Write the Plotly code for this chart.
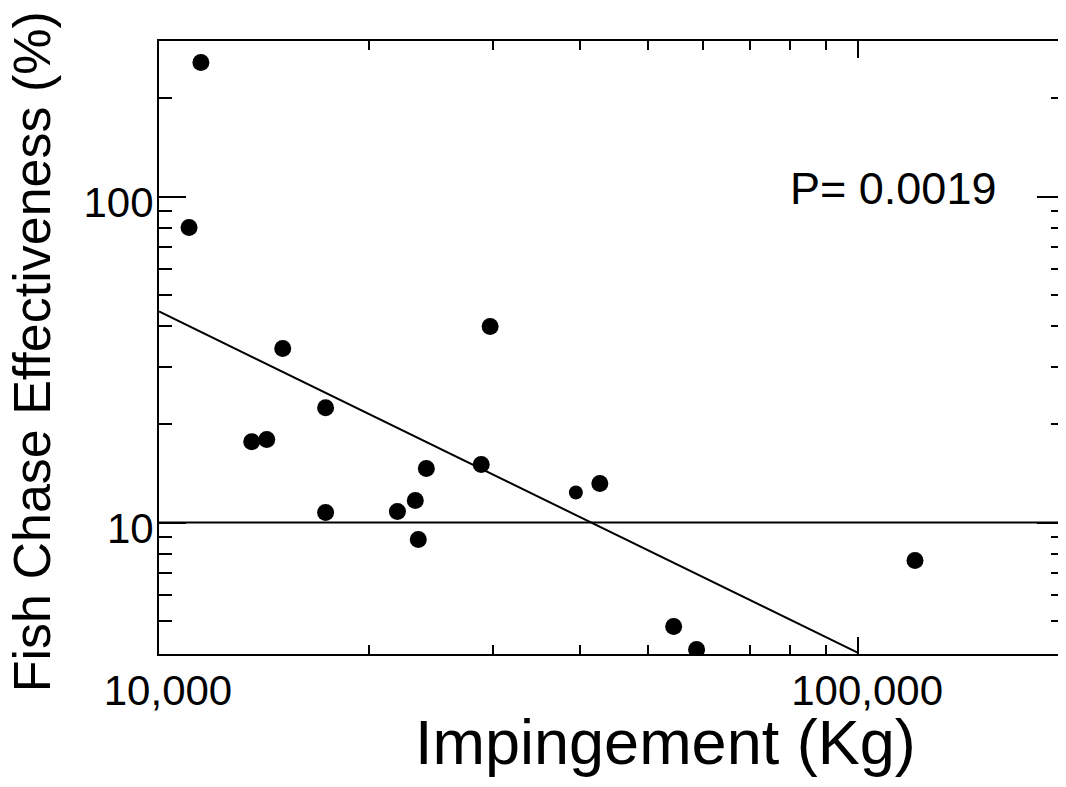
import math
import plotly.graph_objects as go

# ---- data ----
impingement_kg = [11480, 11040, 15030, 17310, 13570, 14260, 17310, 21930, 23260,
                  23490, 24120, 28900, 29760, 39470, 42710, 54470, 58740, 120600]
effectiveness_pct = [257.8, 80.3, 34.2, 22.5, 17.7, 17.97, 10.73, 10.81, 11.68,
                     8.87, 14.64, 15.07, 39.9, 12.36, 13.17, 4.80, 4.08, 7.65]

fit_x = [10000, 100000]
fit_y = [44.4, 3.98]

reference_level = 10
p_text = "P= 0.0019"

x_major_vals = [10000, 100000]
x_major_text = ["10,000", "100,000"]
x_minor_vals = [20000, 30000, 40000, 50000, 60000, 70000, 80000, 90000]
y_major_vals = [10, 100]
y_major_text = ["10", "100"]
y_minor_vals = [5, 6, 7, 8, 9, 20, 30, 40, 50, 60, 70, 80, 90, 200]

x_range = [10000, 197000]
y_range = [3.95, 300]

# ---- style ----
FONT = "Arial, Liberation Sans, Helvetica, sans-serif"
marker_sizes = [17] * len(impingement_kg)
marker_sizes[13] = 14

fig = go.Figure()
# horizontal reference line at 10 %
fig.add_trace(go.Scatter(x=x_range, y=[reference_level, reference_level], mode="lines",
                         line=dict(color="black", width=2), showlegend=False,
                         hoverinfo="skip"))
# regression line
fig.add_trace(go.Scatter(x=fit_x, y=fit_y, mode="lines",
                         line=dict(color="black", width=2), showlegend=False,
                         hoverinfo="skip"))
fig.add_trace(go.Scatter(x=impingement_kg, y=effectiveness_pct, mode="markers",
                         marker=dict(color="#000000", size=marker_sizes, opacity=1,
                                     line=dict(width=0, color="#000000")),
                         opacity=1, showlegend=False))

fig.update_xaxes(type="log", range=[math.log10(v) for v in x_range],
                 showline=True, linecolor="black", linewidth=2, mirror="ticks",
                 showgrid=False, zeroline=False,
                 tickmode="array", tickvals=x_major_vals, ticktext=x_major_text,
                 ticks="inside", ticklen=17, tickwidth=2, tickcolor="black",
                 tickfont=dict(family=FONT, size=42, color="black"),
                 ticklabelshift=9, ticklabelstandoff=-1,
                 minor=dict(tickmode="array", tickvals=x_minor_vals, ticks="inside",
                            ticklen=9, tickwidth=2, tickcolor="black", showgrid=False))
fig.update_yaxes(type="log", range=[math.log10(v) for v in y_range],
                 showline=True, linecolor="black", linewidth=2, mirror="ticks",
                 showgrid=False, zeroline=False,
                 tickmode="array", tickvals=y_major_vals, ticktext=y_major_text,
                 ticks="inside", ticklen=27, tickwidth=2, tickcolor="black",
                 tickfont=dict(family=FONT, size=42, color="black"),
                 ticklabelshift=6, ticklabelstandoff=-5,
                 minor=dict(tickmode="array", tickvals=y_minor_vals, ticks="inside",
                            ticklen=13, tickwidth=2, tickcolor="black", showgrid=False))

fig.add_annotation(text=p_text, xref="paper", yref="paper", x=0.8115, y=0.7594,
                   xanchor="center", yanchor="middle", showarrow=False,
                   font=dict(family=FONT, size=45, color="black"))
fig.add_annotation(text="Impingement (Kg)", xref="paper", yref="paper", x=0.56, y=-0.1436,
                   xanchor="center", yanchor="middle", showarrow=False,
                   font=dict(family=FONT, size=63, color="black"))
fig.add_annotation(text="Fish Chase Effectiveness (%)", xref="paper", yref="paper",
                   x=-0.1400, y=0.4927, textangle=-90,
                   xanchor="center", yanchor="middle", showarrow=False,
                   font=dict(family=FONT, size=52, color="black"))

# page body has an 8px margin; size the figure so it fits the window exactly
fig.update_layout(width=1058, height=771,
                  margin=dict(l=151, r=0, t=33, b=125),
                  paper_bgcolor="white", plot_bgcolor="white",
                  showlegend=False)

fig.write_html("out.html")
